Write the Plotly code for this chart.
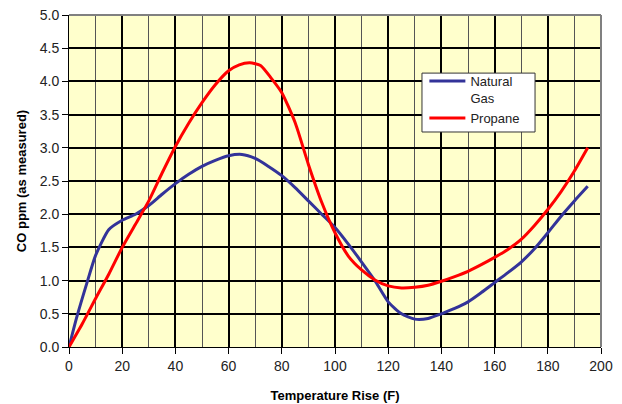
import plotly.graph_objects as go

temp_ng = [0, 3, 7, 10, 15, 20, 25, 30, 35, 40, 45, 50, 55, 60, 65, 70, 75, 80, 85, 90, 95,
           100, 105, 110, 115, 120, 125, 130, 135, 140, 145, 150, 155, 160, 165, 170, 175,
           180, 185, 190, 195]
co_ng = [0.0, 0.46, 1.0, 1.38, 1.77, 1.91, 2.0, 2.13, 2.3, 2.46, 2.6, 2.72, 2.81, 2.88, 2.9,
         2.84, 2.72, 2.58, 2.4, 2.2, 2.0, 1.8, 1.55, 1.28, 1.0, 0.68, 0.5, 0.42, 0.43, 0.5,
         0.58, 0.68, 0.82, 0.97, 1.12, 1.28, 1.48, 1.72, 1.97, 2.2, 2.42]

temp_pr = [0, 5, 10, 15, 20, 25, 30, 35, 40, 45, 50, 55, 60, 64, 68, 72, 76, 80, 85, 90, 95,
           100, 105, 110, 115, 120, 125, 130, 135, 140, 145, 150, 155, 160, 165, 170, 175,
           180, 185, 190, 195]
co_pr = [0.0, 0.35, 0.73, 1.1, 1.5, 1.85, 2.2, 2.62, 3.02, 3.37, 3.68, 3.95, 4.16, 4.25, 4.28,
         4.24, 4.05, 3.83, 3.38, 2.75, 2.18, 1.72, 1.37, 1.16, 1.01, 0.92, 0.89, 0.9, 0.93, 0.99,
         1.06, 1.14, 1.24, 1.35, 1.47, 1.62, 1.83, 2.07, 2.34, 2.65, 3.0]

x_ticks = list(range(0, 201, 20))
y_ticks = [i * 0.5 for i in range(11)]

font = "Liberation Sans, Arial, sans-serif"

fig = go.Figure()
fig.add_trace(go.Scatter(x=temp_ng, y=co_ng, mode="lines", name="Natural<br>Gas",
                         line=dict(color="#333399", width=3, shape="spline", smoothing=0.6)))
fig.add_trace(go.Scatter(x=temp_pr, y=co_pr, mode="lines", name="Propane",
                         line=dict(color="#FF0000", width=3, shape="spline", smoothing=0.6)))

# page body keeps its default 8px margin, so the figure is sized to fit the window
fig.update_layout(
    width=614, height=396,
    margin=dict(l=61, r=21, t=7, b=57),
    paper_bgcolor="white",
    plot_bgcolor="#FFFFCC",
    font=dict(family=font, size=14, color="#222222"),
    showlegend=True,
    legend=dict(x=0.668, y=0.846, xanchor="left", yanchor="top",
                bgcolor="rgba(0,0,0,0)", borderwidth=0,
                font=dict(size=13, color="#222222"), tracegroupgap=0, itemwidth=36,
                valign="top"),
    xaxis=dict(range=[0, 200], tickvals=x_ticks, ticktext=[str(v) for v in x_ticks],
               showgrid=True, gridcolor="black", gridwidth=2,
               minor=dict(dtick=10, tick0=0, showgrid=True, gridcolor="#555555", gridwidth=1),
               ticks="outside", ticklen=6, tickwidth=1, tickcolor="black",
               ticklabeloverflow="allow", automargin=False,
               showline=True, linecolor="black", linewidth=1, mirror=False, zeroline=False,
               title=dict(text="<b>Temperature Rise (F)</b>", font=dict(size=13, color="black"),
                          standoff=18)),
    yaxis=dict(range=[0, 5], tickvals=y_ticks, ticktext=[f"{v:.1f}" for v in y_ticks],
               showgrid=True, gridcolor="black", gridwidth=2,
               ticks="outside", ticklen=6, tickwidth=1, tickcolor="black",
               ticklabeloverflow="allow", automargin=False,
               showline=True, linecolor="black", linewidth=1, zeroline=False,
               title=dict(text="<b>CO ppm (as measured)</b>", font=dict(size=13, color="black"),
                          standoff=10)),
)

# gray top and right borders of the plot area
fig.add_shape(type="line", xref="paper", yref="paper", x0=0, x1=1, y0=1, y1=1,
              line=dict(color="#808080", width=2))
fig.add_shape(type="line", xref="paper", yref="paper", x0=1, x1=1, y0=0, y1=1,
              line=dict(color="#808080", width=2))
# legend box
fig.add_shape(type="rect", xref="paper", yref="paper", x0=0.6635, x1=0.876, y0=0.6476, y1=0.825,
              fillcolor="white", line=dict(color="#333333", width=1), layer="above")

fig.write_html("out.html", config={"displayModeBar": False})
